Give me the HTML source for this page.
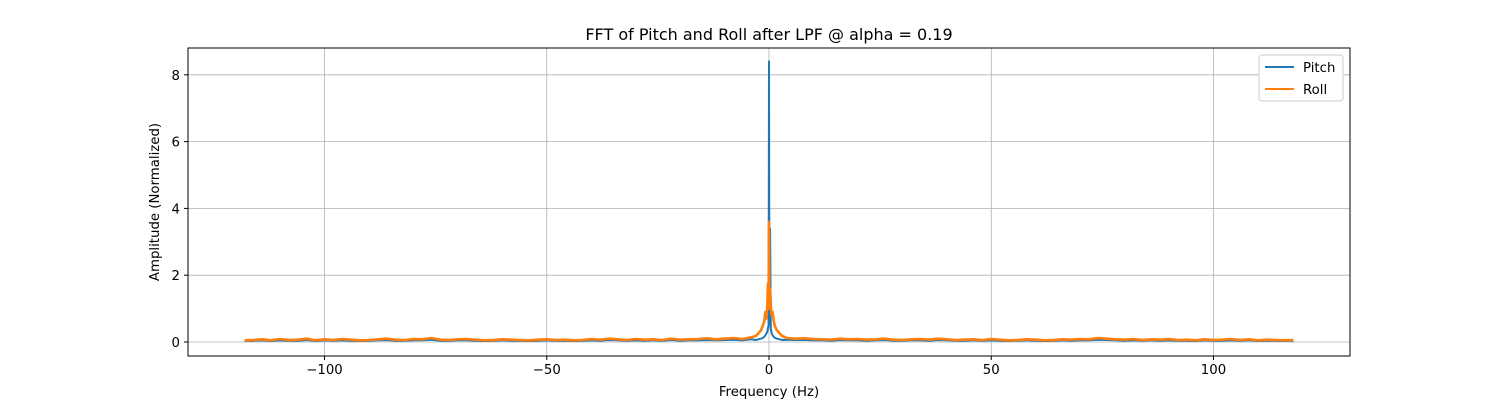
<!DOCTYPE html>
<html><head><meta charset="utf-8"><style>
body{margin:0;background:#fff;font-family:"Liberation Sans","DejaVu Sans",sans-serif}
svg text{font-family:"DejaVu Sans","Liberation Sans",sans-serif}
</style></head><body>
<svg id="c" width="1500" height="400" xmlns="http://www.w3.org/2000/svg"></svg>
<script>
// noise frequencies (Hz), step 2 from -118 to 118
const noiseFreqs = [];
for (let f = -118; f <= 118; f += 2) noiseFreqs.push(f);
const rollNoise = [0.05,0.06,0.08,0.05,0.09,0.06,0.07,0.10,0.05,0.08,0.06,0.09,0.07,0.05,0.06,0.08,0.10,0.07,0.06,0.09,0.08,0.12,0.07,0.06,0.08,0.09,0.07,0.05,0.06,0.08,0.07,0.06,0.05,0.07,0.08,0.06,0.07,0.05,0.06,0.09,0.07,0.10,0.08,0.06,0.09,0.07,0.08,0.06,0.10,0.07,0.08,0.09,0.11,0.08,0.10,0.12,0.09,0.14,0.16,0.18,0.15,0.12,0.10,0.11,0.09,0.08,0.07,0.10,0.08,0.09,0.07,0.08,0.10,0.07,0.06,0.08,0.09,0.07,0.10,0.08,0.06,0.07,0.08,0.06,0.09,0.07,0.05,0.06,0.08,0.07,0.05,0.06,0.08,0.07,0.09,0.08,0.12,0.10,0.08,0.07,0.09,0.06,0.08,0.07,0.09,0.06,0.07,0.05,0.08,0.06,0.07,0.09,0.06,0.08,0.05,0.07,0.06,0.05,0.06];
const pitchNoise = [0.03,0.04,0.05,0.03,0.05,0.04,0.04,0.06,0.03,0.05,0.04,0.05,0.04,0.03,0.04,0.05,0.06,0.04,0.04,0.05,0.05,0.07,0.04,0.04,0.05,0.05,0.04,0.03,0.04,0.05,0.04,0.04,0.03,0.04,0.05,0.04,0.04,0.03,0.04,0.05,0.04,0.06,0.05,0.04,0.05,0.04,0.05,0.04,0.06,0.04,0.05,0.05,0.06,0.05,0.06,0.07,0.05,0.08,0.09,0.10,0.09,0.07,0.06,0.06,0.05,0.05,0.04,0.06,0.05,0.05,0.04,0.05,0.06,0.04,0.04,0.05,0.05,0.04,0.06,0.05,0.04,0.04,0.05,0.04,0.05,0.04,0.03,0.04,0.05,0.04,0.03,0.04,0.05,0.04,0.05,0.05,0.07,0.06,0.05,0.04,0.05,0.04,0.05,0.04,0.05,0.04,0.04,0.03,0.05,0.04,0.04,0.05,0.04,0.05,0.03,0.04,0.04,0.03,0.04];
// central peak region
const centerFreqs = [-3,-2.4,-1.8,-1.4,-1.1,-0.8,-0.6,-0.4,-0.25,-0.1,0,0.1,0.25,0.4,0.6,0.8,1.1,1.4,1.8,2.4,3];
const rollCenter  = [0.18,0.25,0.35,0.5,0.6,0.9,0.7,1.0,1.75,1.2,3.6,1.0,1.6,1.1,0.8,0.9,0.6,0.45,0.35,0.25,0.18];
const pitchCenter = [0.06,0.08,0.10,0.12,0.15,0.2,0.25,0.3,0.4,0.5,8.4,0.5,3.4,0.4,0.25,0.2,0.15,0.12,0.1,0.08,0.06];
const xTicks = [-100,-50,0,50,100];
const yTicks = [0,2,4,6,8];

const NS='http://www.w3.org/2000/svg', svg=document.getElementById('c');
const L=188,R=1350,T=48,B=356;
const xS=v=>769+v*4.445, yS=v=>342-v*33.4;
function el(t,a,txt){const e=document.createElementNS(NS,t);for(const k in a)e.setAttribute(k,a[k]);if(txt!=null)e.textContent=txt;svg.appendChild(e);return e;}

xTicks.forEach(v=>{const g=el('line',{x1:xS(v),x2:xS(v),y1:T,y2:B,stroke:'#b0b0b0','stroke-width':0.8});
});
yTicks.forEach(v=>{const g=el('line',{x1:L,x2:R,y1:yS(v),y2:yS(v),stroke:'#b0b0b0','stroke-width':0.8});
});

function merge(nf,nv,cf,cv){const pts=[];nf.forEach((f,i)=>{if(Math.abs(f)>3.1)pts.push([f,nv[i]]);});cf.forEach((f,i)=>pts.push([f,cv[i]]));pts.sort((a,b)=>a[0]-b[0]);return pts;}
function series(pts,color,w,name){const d=pts.map((p,i)=>(i?'L':'M')+xS(p[0]).toFixed(1)+','+yS(p[1]).toFixed(1)).join('');
const p=el('path',{d:d,fill:'none',stroke:color,'stroke-width':w,'stroke-linejoin':'round'});
}
series(merge(noiseFreqs,pitchNoise,centerFreqs,pitchCenter),'#1f77b4',2,'pitch-line');
series(merge(noiseFreqs,rollNoise,centerFreqs,rollCenter),'#ff7f0e',2.6,'roll-line');

const fr=el('rect',{x:L,y:T,width:R-L,height:B-T,fill:'none',stroke:'#000','stroke-width':1});


xTicks.forEach(v=>{el('line',{x1:xS(v),x2:xS(v),y1:B,y2:B+4,stroke:'#000'});
const t=el('text',{x:xS(v),y:B+18,'text-anchor':'middle','font-size':13.3},v<0?'\u2212'+(-v):String(v));
});
yTicks.forEach(v=>{el('line',{x1:L-4,x2:L,y1:yS(v),y2:yS(v),stroke:'#000'});
const t=el('text',{x:L-8,y:yS(v)+5,'text-anchor':'end','font-size':13.3},String(v));
});

let t=el('text',{x:769,y:40,'text-anchor':'middle','font-size':16},'FFT of Pitch and Roll after LPF @ alpha = 0.19');

t=el('text',{x:769,y:396,'text-anchor':'middle','font-size':13.3},'Frequency (Hz)');

t=el('text',{x:0,y:0,'text-anchor':'middle','font-size':13.3,transform:'translate(159,202) rotate(-90)'},'Amplitude (Normalized)');


const lg=el('rect',{x:1259,y:55,width:84,height:46,fill:'#fff',stroke:'#ccc',rx:3});

[['Pitch','#1f77b4',67],['Roll','#ff7f0e',89]].forEach(([n,c,y])=>{
el('line',{x1:1265,x2:1294,y1:y,y2:y,stroke:c,'stroke-width':2});
const tx=el('text',{x:1303,y:y+5,'font-size':13.3},n);
});
</script>
</body></html>
